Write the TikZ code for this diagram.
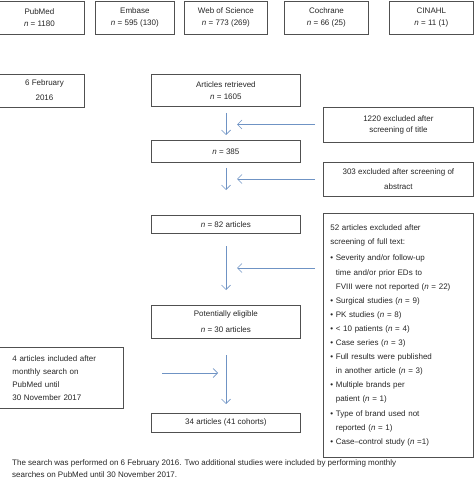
\documentclass[tikz,border=0pt]{standalone}
\usepackage{fontspec}
\setmainfont{Liberation Sans}
\usetikzlibrary{arrows.meta}
\definecolor{boxgray}{HTML}{505050}
\definecolor{txtgray}{HTML}{262626}
\definecolor{arrblue}{HTML}{6F93C4}
\newcommand{\fsz}[1]{\fontsize{8}{#1}\selectfont}
\newcommand{\nn}{\textit{n}}
\begin{document}
\begin{tikzpicture}[x=1pt,y=-1pt,
  box/.style={draw=boxgray, line width=0.8pt, inner sep=0pt, anchor=north west,
    align=center, text=txtgray},
  lbox/.style={box, align=left, inner xsep=7pt},
  arr/.style={draw=arrblue, line width=0.7pt, -{Straight Barb[length=4.5pt,width=9pt,line width=0.7pt]}},
  txt/.style={text=txtgray, inner sep=0pt}]
\useasboundingbox (0,0) rectangle (474,486);
\clip (0,0) rectangle (474,486);
% top database boxes
\node[box, minimum width=90pt, minimum height=33pt, font=\fsz{12}] (pub) at (-6,0.8) {PubMed\\\nn{} = 1180};
\node[box, minimum width=79pt, minimum height=33pt, font=\fsz{12}] (emb) at (95,0.8) {Embase\\\nn{} = 595 (130)};
\node[box, minimum width=83pt, minimum height=33pt, font=\fsz{12}] (wos) at (184,0.8) {Web of Science\\\nn{} = 773 (269)};
\node[box, minimum width=84pt, minimum height=33pt, font=\fsz{12}] (coc) at (284,0.8) {Cochrane\\\nn{} = 66 (25)};
\node[box, minimum width=84pt, minimum height=33pt, font=\fsz{12}] (cin) at (389,0.8) {CINAHL\\\nn{} = 11 (1)};
% date box
\node[box, minimum width=90pt, minimum height=33pt] (feb) at (-6,74) {};
\node[txt, align=center, font=\fsz{15}] (febtxt) at (44.5,90.5) {6 February\\2016};
% main column
\node[box, minimum width=149pt, minimum height=32pt, font=\fsz{12}] (art) at (151,74) {Articles retrieved\\\nn{} = 1605};
\node[box, minimum width=149pt, minimum height=22pt, font=\fsz{12}] (n385) at (151,140) {\nn{} = 385};
\node[box, minimum width=149pt, minimum height=18pt, font=\fsz{12}] (n82) at (151,215) {\nn{} = 82 articles};
\node[box, minimum width=149pt, minimum height=33pt, font=\fsz{16}] (pot) at (151,305) {Potentially eligible\\\nn{} = 30 articles};
\node[box, minimum width=149pt, minimum height=19pt, font=\fsz{12}] (fin) at (151,413) {34 articles (41 cohorts)};
% exclusion boxes
\node[box, minimum width=150pt, minimum height=35pt, font=\fsz{11}] (ex1) at (323,107) {1220 excluded after\\screening of title};
\node[box, minimum width=150pt, minimum height=34pt, font=\fsz{15}] (ex2) at (323,162) {303 excluded after screening of\\abstract};
\node[lbox, minimum width=150pt, minimum height=244pt, text width=136pt, font=\fsz{14.1}] (ex3) at (323,213) {%
52 articles excluded after\\
screening of full text:\\[2pt]
\textbullet\ Severity and/or follow-up\\
\hphantom{\textbullet\ }time and/or prior EDs to\\
\hphantom{\textbullet\ }FVIII were not reported (\nn{} = 22)\\
\textbullet\ Surgical studies (\nn{} = 9)\\
\textbullet\ PK studies (\nn{} = 8)\\
\textbullet\ < 10 patients (\nn{} = 4)\\
\textbullet\ Case series (\nn{} = 3)\\
\textbullet\ Full results were published\\
\hphantom{\textbullet\ }in another article (\nn{} = 3)\\
\textbullet\ Multiple brands per\\
\hphantom{\textbullet\ }patient (\nn{} = 1)\\
\textbullet\ Type of brand used not\\
\hphantom{\textbullet\ }reported (\nn{} = 1)\\
\textbullet\ Case--control study (\nn{} =1)};
% inclusion box
\node[box, align=left, inner xsep=14pt, minimum width=125pt, minimum height=61pt, text width=97pt, font=\fsz{13}] (inc) at (-2,347) {4 articles included after\\monthly search on\\PubMed until\\30 November 2017};
% footer
\node[txt, anchor=north west, align=left, font=\fsz{12}] (foot) at (12,459.5) {The search was performed on 6 February 2016. Two additional studies were included by performing monthly\\searches on PubMed until 30 November 2017.};
% arrow end points
\coordinate (a1s) at (226,113); \coordinate (a1e) at (226,135);
\coordinate (h1s) at (315,124.5); \coordinate (h1e) at (237,124.5);
\coordinate (a2s) at (226,168); \coordinate (a2e) at (226,190);
\coordinate (h2s) at (315,179); \coordinate (h2e) at (237,179);
\coordinate (a3s) at (226,246); \coordinate (a3e) at (226,290);
\coordinate (h3s) at (315,268); \coordinate (h3e) at (237,268);
\coordinate (a4s) at (226,355); \coordinate (a4e) at (226,404);
\coordinate (h4s) at (162,373); \coordinate (h4e) at (218,373);
\draw[arr] (a1s) -- (a1e);
\draw[arr] (h1s) -- (h1e);
\draw[arr] (a2s) -- (a2e);
\draw[arr] (h2s) -- (h2e);
\draw[arr] (a3s) -- (a3e);
\draw[arr] (h3s) -- (h3e);
\draw[arr] (a4s) -- (a4e);
\draw[arr] (h4s) -- (h4e);
\end{tikzpicture}
\end{document}
